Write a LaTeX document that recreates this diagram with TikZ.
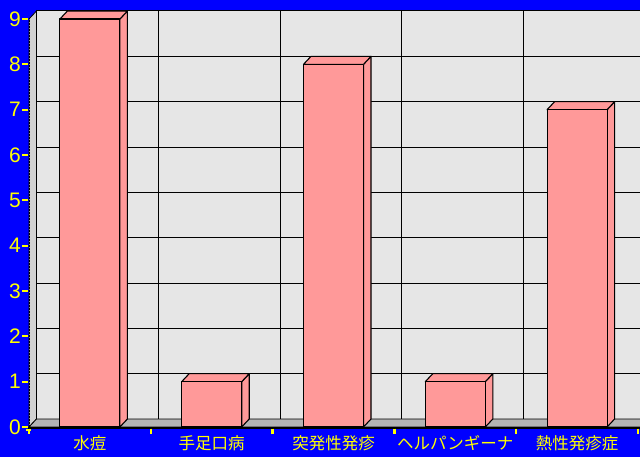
\documentclass[tikz,border=0pt]{standalone}
\usepackage{fontspec}
\setmainfont{Liberation Sans}
\newfontfamily\cjk{Noto Sans CJK JP}
\definecolor{bgblue}{HTML}{0000FF}
\definecolor{wallc}{HTML}{E6E6E6}
\definecolor{sidewall}{HTML}{D2D2D2}
\definecolor{floorc}{HTML}{B4B4B4}
\definecolor{barc}{HTML}{FF9999}
\definecolor{ylw}{HTML}{FFFF00}
\begin{document}
\begin{tikzpicture}[x=1pt,y=-1pt,
  barface/.style={fill=barc,draw=black,line width=1.1pt,line join=round},
  grid line/.style={draw=black,line width=0.9pt},
  ylab/.style={text=ylw,font=\fontsize{21}{21}\selectfont,anchor=east,inner sep=0pt},
  xlab/.style={text=ylw,font=\cjk\fontsize{16.5}{16.5}\selectfont,anchor=center,inner sep=0pt},
  ytick/.style={draw=ylw,line width=2pt},
  xtick/.style={draw=ylw,line width=2.5pt}]
\useasboundingbox (0,0) rectangle (640,457);
\fill[bgblue] (0,0) rectangle (640,457);
% geometry
\def\ox{29}\def\oy{427}\def\dx{7.5}\def\dy{8}\def\u{45.33}\def\cw{121.8}
% back wall
\filldraw[fill=wallc,draw=black,line width=1pt] (36.5,11) rectangle (650,419);
\foreach \v in {1,...,8}{
  \draw[grid line] (36.5,{419-\u*\v}) -- (645,{419-\u*\v});
}
\foreach \k in {1,...,4}{
  \draw[grid line] ({36.5+\cw*\k},11) -- ({36.5+\cw*\k},419);
}
% left wall
\filldraw[fill=sidewall,draw=black,line width=0.8pt] (29,427) -- (29,19) -- (36.5,11) -- (36.5,419) -- cycle;
\draw[black,line width=1pt,dash pattern=on 2pt off 1pt] (29,427) -- (29,19);
% floor
\filldraw[fill=floorc,draw=black,line width=0.8pt] (29,427) -- (36.5,419) -- (650,419) -- (650,427) -- cycle;
% bars
\foreach \i/\v in {0/9,1/1,2/8,3/1,4/7}{
  \pgfmathsetmacro{\cx}{\ox+\cw*(\i+0.5)}
  \pgfmathsetmacro{\tp}{\oy-\u*\v}
  \filldraw[barface] ({\cx+30},427) -- ({\cx+30},\tp) -- ({\cx+37.5},{\tp-8}) -- ({\cx+37.5},419) -- cycle;
  \filldraw[barface] ({\cx-30},\tp) -- ({\cx-22.5},{\tp-8}) -- ({\cx+37.5},{\tp-8}) -- ({\cx+30},\tp) -- cycle;
  \filldraw[barface] ({\cx-30},427) rectangle ({\cx+30},\tp);
}
% base line
\draw[black,line width=2pt] (28,427.5) -- (640,427.5);
% y axis ticks and labels
\foreach \v in {0,...,9}{
  \draw[ytick] (22,{427-\u*\v}) -- (28,{427-\u*\v});
  \node[ylab] (y\v) at (21,{427-\u*\v}) {\v};
}
% x ticks
\foreach \k in {0,...,5}{
  \draw[xtick] ({29+\cw*\k},428.5) -- ({29+\cw*\k},434);
}
\draw[ytick] (26,430) -- (31,430);
% x labels
\node[xlab] (l1) at ({29+\cw*0.5},443) {水痘};
\node[xlab] (l2) at ({29+\cw*1.5},443) {手足口病};
\node[xlab] (l3) at ({29+\cw*2.5},443) {突発性発疹};
\node[xlab] (l4) at ({29+\cw*3.5},443) {ヘルパンギーナ};
\node[xlab] (l5) at ({29+\cw*4.5},443) {熱性発疹症};
\end{tikzpicture}
\end{document}
